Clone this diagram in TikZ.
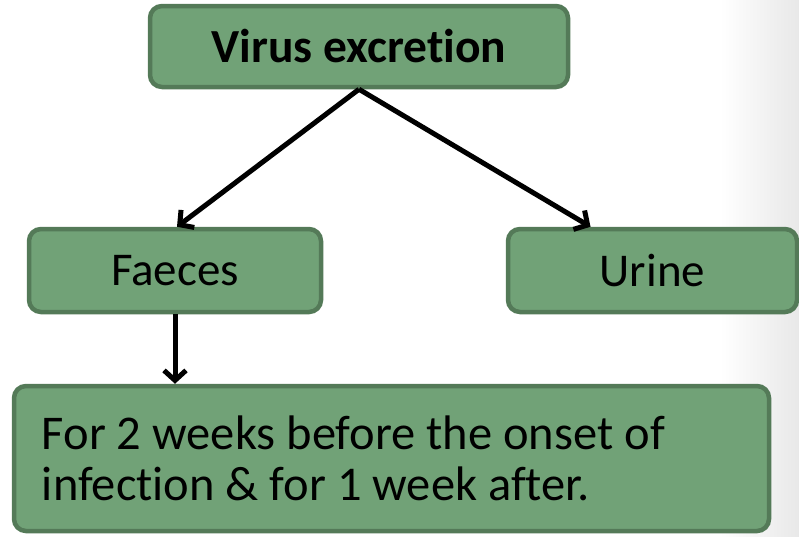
\documentclass[tikz,border=0pt]{standalone}
\usepackage{fontspec}
\setmainfont{Carlito}[Ligatures={NoCommon}]
\usetikzlibrary{arrows.meta}
\definecolor{boxfill}{RGB}{113,162,119}
\definecolor{boxline}{RGB}{84,122,88}
\tikzset{
  greenbox/.style={draw=boxline, fill=boxfill, line width=4.5pt, rounded corners=12pt,
    inner sep=0pt, font=\fontsize{47}{51}\selectfont},
  link/.style={line width=5pt, -{Straight Barb[length=10pt,width=22pt]}}
}
\begin{document}
\begin{tikzpicture}[x=1pt,y=-1pt]
  \useasboundingbox (0,0) rectangle (799,536);
  % soft shadow along the right edge
  \shade[left color=white, right color=black!9] (720,0) rectangle (799,536);
  \node[greenbox, minimum width=418pt, minimum height=81pt,
        font=\fontsize{47.5}{54}\selectfont\bfseries] (top) at (359,46.5) {Virus excretion};
  \node[greenbox, minimum width=292pt, minimum height=83pt] (faeces) at (175,270.5) {Faeces};
  \node[greenbox, minimum width=289pt, minimum height=83pt] (urine) at (652.5,270.5) {Urine};
  \node[greenbox, minimum width=755pt, minimum height=145pt] (note) at (391.5,458.5) {};
  \node[anchor=west, align=left, inner sep=0pt, font=\fontsize{48.5}{51}\selectfont]
        (notetext) at ([xshift=30pt]note.west)
        {For 2 weeks before the onset of\\infection \& for 1 week after.};
  \draw[link] (top.south) -- ([xshift=2pt]faeces.north);
  \draw[link] (top.south) -- ([xshift=-62pt]urine.north);
  \draw[link] (faeces.south) -- (note.north -| faeces.south);
\end{tikzpicture}
\end{document}
